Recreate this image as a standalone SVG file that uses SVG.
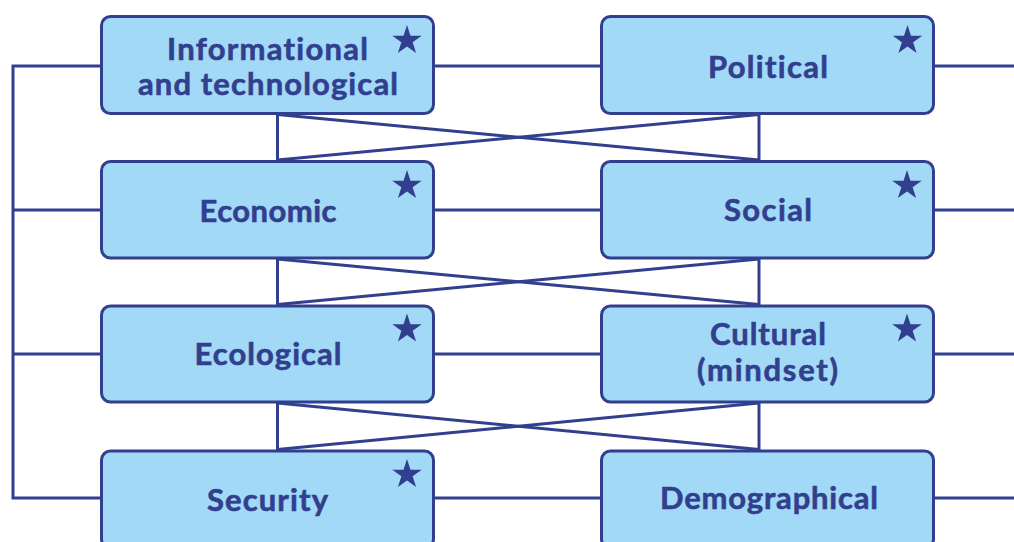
<svg xmlns="http://www.w3.org/2000/svg" width="1014" height="542" viewBox="0 0 1014 542">
<style>
.box{fill:#a2d9f6;stroke:#323f8e;stroke-width:3}
.ln{fill:none;stroke:#323f8e;stroke-width:3}
.t{font-family:Lato,"Liberation Sans",sans-serif;font-weight:bold;font-size:31px;fill:#323f8e;stroke:#323f8e;stroke-width:0.6;text-anchor:middle;font-variant-ligatures:none;font-feature-settings:"liga" 0,"dlig" 0,"clig" 0}
.star{fill:#323f8e}
</style>
<defs>
<path id="star" d="M0,-15.5 L3.48,-4.79 L14.74,-4.79 L5.63,1.83 L9.11,12.54 L0,5.92 L-9.11,12.54 L-5.63,1.83 L-14.74,-4.79 L-3.48,-4.79 Z"/>
</defs>
<rect width="1014" height="542" fill="#ffffff"/>
<g id="connectors" class="ln">
<polyline points="101,66 13,66 13,498 101,498"/>
<line x1="13" y1="210" x2="101" y2="210"/>
<line x1="13" y1="354" x2="101" y2="354"/>
<line x1="434" y1="66" x2="601" y2="66"/>
<line x1="434" y1="210" x2="601" y2="210"/>
<line x1="434" y1="354" x2="601" y2="354"/>
<line x1="434" y1="498" x2="601" y2="498"/>
<line x1="934" y1="66" x2="1014" y2="66"/>
<line x1="934" y1="210" x2="1014" y2="210"/>
<line x1="934" y1="354" x2="1014" y2="354"/>
<line x1="934" y1="498" x2="1014" y2="498"/>
<line x1="277.5" y1="114" x2="277.5" y2="161"/>
<line x1="759" y1="114" x2="759" y2="161"/>
<line x1="277.5" y1="114.5" x2="759" y2="160"/>
<line x1="277.5" y1="160" x2="759" y2="114.5"/>
<line x1="277.5" y1="258" x2="277.5" y2="306"/>
<line x1="759" y1="258" x2="759" y2="306"/>
<line x1="277.5" y1="259" x2="759" y2="304.5"/>
<line x1="277.5" y1="304.5" x2="759" y2="259"/>
<line x1="277.5" y1="402" x2="277.5" y2="451"/>
<line x1="759" y1="402" x2="759" y2="451"/>
<line x1="277.5" y1="403" x2="759" y2="449.5"/>
<line x1="277.5" y1="449.5" x2="759" y2="403"/>
</g>
<g id="informational">
<rect class="box" x="101.5" y="16.5" width="332" height="97" rx="9"/>
<text class="t" x="267.5" y="60" textLength="201" lengthAdjust="spacing">Informational</text>
<text class="t" x="268" y="95" textLength="260" lengthAdjust="spacing">and technological</text>
<use href="#star" class="star" x="407" y="40.5"/>
</g>
<g id="political">
<rect class="box" x="601.5" y="16.5" width="332" height="97" rx="9"/>
<text class="t" x="768" y="78" textLength="120" lengthAdjust="spacing">Political</text>
<use href="#star" class="star" x="907.5" y="40.5"/>
</g>
<g id="economic">
<rect class="box" x="101.5" y="161.5" width="332" height="96.5" rx="9"/>
<text class="t" x="268" y="222" textLength="137" lengthAdjust="spacing">Economic</text>
<use href="#star" class="star" x="407" y="185.5"/>
</g>
<g id="social">
<rect class="box" x="601.5" y="161.5" width="332" height="96.5" rx="9"/>
<text class="t" x="768" y="221" textLength="88" lengthAdjust="spacing">Social</text>
<use href="#star" class="star" x="907" y="185.5"/>
</g>
<g id="ecological">
<rect class="box" x="101.5" y="306" width="332" height="96" rx="9"/>
<text class="t" x="268" y="365" textLength="147" lengthAdjust="spacing">Ecological</text>
<use href="#star" class="star" x="407" y="329"/>
</g>
<g id="cultural">
<rect class="box" x="601.5" y="306" width="332" height="96" rx="9"/>
<text class="t" x="768" y="345" textLength="116" lengthAdjust="spacing">Cultural</text>
<text class="t" x="767.5" y="381" textLength="141" lengthAdjust="spacing">(mindset)</text>
<use href="#star" class="star" x="907" y="329"/>
</g>
<g id="security">
<rect class="box" x="101.5" y="451" width="332" height="97" rx="9"/>
<text class="t" x="267.5" y="511" textLength="121" lengthAdjust="spacing">Security</text>
<use href="#star" class="star" x="407" y="474.5"/>
</g>
<g id="demographical">
<rect class="box" x="601.5" y="451" width="332" height="97" rx="9"/>
<text class="t" x="769" y="508.5" textLength="218" lengthAdjust="spacing">Demographical</text>
</g>
</svg>
